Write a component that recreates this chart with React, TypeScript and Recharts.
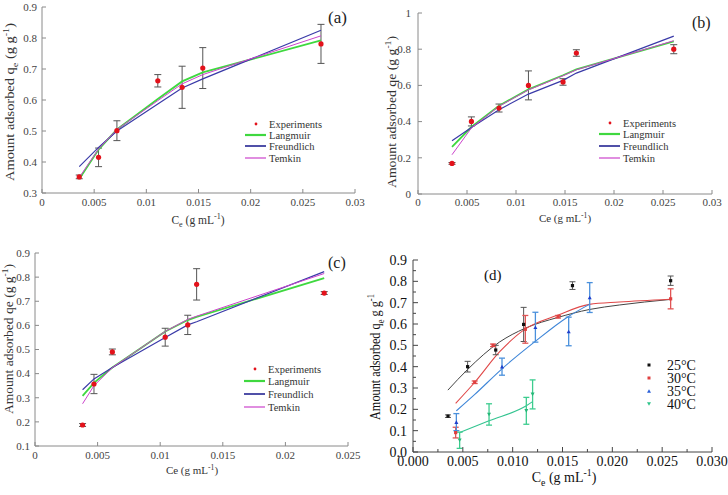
import React from "react";
import { ComposedChart, Scatter, Line, XAxis, YAxis, ErrorBar } from "recharts";

// ---------- panel (a)
const ceA = [0.00357, 0.00542, 0.00718, 0.0111, 0.01343, 0.01541, 0.02674];
const qeA = [0.352, 0.415, 0.501, 0.662, 0.641, 0.703, 0.781];
const errA = [0.006, 0.03, 0.032, 0.02, 0.068, 0.066, 0.063];
const langA = [0.345, 0.44, 0.505, 0.603, 0.66, 0.689, 0.792];
const freuA = [0.385, 0.447, 0.5, 0.587, 0.639, 0.668, 0.825];
const temkA = [0.35, 0.442, 0.505, 0.598, 0.652, 0.682, 0.807];
const xTicksA = [0, 0.005, 0.01, 0.015, 0.02, 0.025, 0.03];
const yTicksA = [0.3, 0.4, 0.5, 0.6, 0.7, 0.8, 0.9];

// ---------- panel (b)
const ceB = [0.00347, 0.00545, 0.00827, 0.01127, 0.0148, 0.01616, 0.0261];
const qeB = [0.169, 0.401, 0.475, 0.6, 0.619, 0.779, 0.8];
const errB = [0.005, 0.025, 0.022, 0.08, 0.018, 0.018, 0.025];
const langB = [0.26, 0.37, 0.488, 0.578, 0.656, 0.688, 0.843];
const freuB = [0.294, 0.368, 0.466, 0.552, 0.628, 0.668, 0.872];
const temkB = [0.217, 0.365, 0.485, 0.575, 0.653, 0.686, 0.847];
const xTicksB = [0, 0.005, 0.01, 0.015, 0.02, 0.025, 0.03];
const yTicksB = [0, 0.2, 0.4, 0.6, 0.8, 1];

// ---------- panel (c)
const ceC = [0.0038, 0.00471, 0.00618, 0.0104, 0.0122, 0.01291, 0.0231];
const qeC = [0.187, 0.357, 0.49, 0.551, 0.602, 0.77, 0.734];
const errC = [0.006, 0.04, 0.012, 0.037, 0.04, 0.065, 0.006];
const langC = [0.308, 0.362, 0.425, 0.575, 0.622, 0.635, 0.796];
const freuC = [0.333, 0.378, 0.425, 0.55, 0.602, 0.615, 0.823];
const temkC = [0.275, 0.35, 0.425, 0.575, 0.625, 0.638, 0.815];
const xTicksC = [0, 0.005, 0.01, 0.015, 0.02, 0.025];
const yTicksC = [0.1, 0.2, 0.3, 0.4, 0.5, 0.6, 0.7, 0.8, 0.9];

// ---------- panel (d)
const ce25 = [0.00351, 0.00548, 0.0083, 0.0111, 0.016, 0.02585];
const qe25 = [0.168, 0.4, 0.478, 0.598, 0.78, 0.803];
const err25 = [0.006, 0.025, 0.022, 0.08, 0.018, 0.022];
const fitX25 = [0.0035, 0.0055, 0.0087, 0.0112, 0.01455, 0.0177, 0.0207, 0.0258];
const fitY25 = [0.29, 0.388, 0.516, 0.579, 0.631, 0.668, 0.689, 0.715];

const ce30 = [0.00428, 0.00619, 0.00803, 0.01127, 0.01455, 0.02585];
const qe30 = [0.091, 0.327, 0.5, 0.575, 0.634, 0.718];
const err30 = [0.025, 0.006, 0.006, 0.065, 0.006, 0.047];
const fitX30 = [0.00428, 0.0062, 0.0087, 0.0112, 0.01455, 0.0177, 0.0207, 0.0258];
const fitY30 = [0.228, 0.327, 0.47, 0.575, 0.642, 0.692, 0.703, 0.716];

const ce35 = [0.00435, 0.00893, 0.01228, 0.01562, 0.01773];
const qe35 = [0.14, 0.4, 0.585, 0.565, 0.724];
const err35 = [0.04, 0.04, 0.07, 0.067, 0.07];
const fitX35 = [0.00435, 0.0062, 0.00893, 0.0122, 0.01556, 0.0177];
const fitY35 = [0.193, 0.27, 0.39, 0.516, 0.634, 0.692];

const ce40 = [0.00468, 0.00763, 0.01137, 0.012];
const qe40 = [0.055, 0.176, 0.193, 0.27];
const err40 = [0.038, 0.05, 0.063, 0.068];
const fitX40 = [0.00468, 0.00763, 0.01137, 0.012];
const fitY40 = [0.091, 0.146, 0.217, 0.236];

const xTicksD = [0, 0.005, 0.01, 0.015, 0.02, 0.025, 0.03];
const xMinorD = [0.0025, 0.0075, 0.0125, 0.0175, 0.0225, 0.0275];
const yTicksD = [0, 0.1, 0.2, 0.3, 0.4, 0.5, 0.6, 0.7, 0.8, 0.9];
const yMinorD = [0.05, 0.15, 0.25, 0.35, 0.45, 0.55, 0.65, 0.75, 0.85];

const FONT = '"Liberation Serif", "DejaVu Serif", serif';
const RED = "#e3121b";
const GREEN = "#3fd83f";
const BLUE = "#3a3aa8";
const MAGENTA = "#cc44cc";

const rows = (xs: number[], ys: number[], es?: number[]) =>
  xs.map((x, i) => ({ x, y: ys[i], e: es ? es[i] : 0 }));

type Side = "bottom" | "left" | "top" | "right";
type TickOpt = {
  side: Side;
  len: number;
  minorLen: number;
  majors: number[];
  fmt?: (v: number) => string;
  gap: number;
  fontSize: number;
  color: string;
  textColor: string;
};

const makeTick = (o: TickOpt) => (props: any) => {
  const { x, y, payload } = props;
  const v = payload.value as number;
  const major = o.majors.some((m) => Math.abs(m - v) < 1e-9);
  const L = major ? o.len : o.minorLen;
  const label = major && o.fmt ? o.fmt(v) : null;
  const ln = { stroke: o.color, strokeWidth: 1 };
  const txt = { style: { fontSize: o.fontSize, fontFamily: FONT }, fill: o.textColor };
  if (o.side === "bottom")
    return (
      <g>
        <line x1={x} x2={x} y1={y} y2={y - L} {...ln} />
        {label && (
          <text x={x} y={y + o.gap} textAnchor="middle" {...txt}>
            {label}
          </text>
        )}
      </g>
    );
  if (o.side === "left")
    return (
      <g>
        <line x1={x} x2={x + L} y1={y} y2={y} {...ln} />
        {label && (
          <text x={x - o.gap} y={y} dy="0.35em" textAnchor="end" {...txt}>
            {label}
          </text>
        )}
      </g>
    );
  if (o.side === "top") return <line x1={x} x2={x} y1={y} y2={y + L} {...ln} />;
  return <line x1={x} x2={x - L} y1={y} y2={y} {...ln} />;
};

type PanelProps = {
  left: number;
  top: number;
  width: number;
  height: number;
  mTop: number;
  mRight: number;
  yWidth: number;
  xHeight: number;
  xDomain: [number, number];
  yDomain: [number, number];
  xTicks: number[];
  yTicks: number[];
  xMinor?: number[];
  yMinor?: number[];
  xFmt: (v: number) => string;
  yFmt: (v: number) => string;
  frame: string;
  textColor: string;
  fontSize: number;
  xGap: number;
  yGap: number;
  len: number;
  children: React.ReactNode;
};

function Panel(p: PanelProps) {
  const xAll = [...p.xTicks, ...(p.xMinor || [])].sort((a, b) => a - b);
  const yAll = [...p.yTicks, ...(p.yMinor || [])].sort((a, b) => a - b);
  const base = {
    minorLen: Math.round(p.len * 0.6),
    len: p.len,
    fontSize: p.fontSize,
    color: p.frame,
    textColor: p.textColor,
  };
  const common = {
    type: "number" as const,
    interval: 0 as const,
    tickSize: 0,
    tickMargin: 0,
    tickLine: false,
    allowDataOverflow: true,
    axisLine: { stroke: p.frame, strokeWidth: 1 },
  };
  return (
    <div style={{ position: "absolute", left: p.left, top: p.top }}>
      <ComposedChart
        width={p.width}
        height={p.height}
        margin={{ top: p.mTop, right: p.mRight, left: 0, bottom: 0 }}
      >
        <XAxis
          dataKey="x"
          domain={p.xDomain}
          ticks={xAll}
          height={p.xHeight}
          tick={makeTick({ ...base, side: "bottom", majors: p.xTicks, fmt: p.xFmt, gap: p.xGap })}
          {...common}
        />
        <XAxis
          xAxisId="t"
          orientation="top"
          dataKey="x"
          domain={p.xDomain}
          ticks={xAll}
          height={0}
          tick={makeTick({ ...base, side: "top", majors: p.xTicks, gap: 0 })}
          {...common}
        />
        <YAxis
          dataKey="y"
          domain={p.yDomain}
          ticks={yAll}
          width={p.yWidth}
          tick={makeTick({ ...base, side: "left", majors: p.yTicks, fmt: p.yFmt, gap: p.yGap })}
          {...common}
        />
        <YAxis
          yAxisId="r"
          orientation="right"
          dataKey="y"
          domain={p.yDomain}
          ticks={yAll}
          width={0}
          tick={makeTick({ ...base, side: "right", majors: p.yTicks, gap: 0 })}
          {...common}
        />
        {p.children}
      </ComposedChart>
    </div>
  );
}

const dot = (r: number, fill: string) => (s: any) =>
  <circle cx={s.cx} cy={s.cy} r={r} fill={fill} />;
const square = (w: number, fill: string) => (s: any) =>
  <rect x={s.cx - w / 2} y={s.cy - w / 2} width={w} height={w} fill={fill} />;
const tri = (w: number, fill: string, down: boolean) => (s: any) => {
  const h = w * 0.9;
  const d = down
    ? `M${s.cx - w / 2},${s.cy - h / 2}L${s.cx + w / 2},${s.cy - h / 2}L${s.cx},${s.cy + h / 2}Z`
    : `M${s.cx - w / 2},${s.cy + h / 2}L${s.cx + w / 2},${s.cy + h / 2}L${s.cx},${s.cy - h / 2}Z`;
  return <path d={d} fill={fill} />;
};

// isotherm panels share one look
function isoSeries(ce: number[], qe: number[], err: number[], lang: number[], freu: number[], temk: number[]) {
  return [
    <Scatter key="exp" data={rows(ce, qe, err)} fill={RED} shape={dot(2.6, RED)} isAnimationActive={false}>
      <ErrorBar dataKey="e" direction="y" width={3.5} stroke="#555" strokeWidth={1} isAnimationActive={false} />
    </Scatter>,
    <Line key="l" data={rows(ce, lang)} dataKey="y" type="linear" stroke={GREEN} strokeWidth={1.8} dot={false} isAnimationActive={false} />,
    <Line key="f" data={rows(ce, freu)} dataKey="y" type="linear" stroke={BLUE} strokeWidth={1.2} dot={false} isAnimationActive={false} />,
    <Line key="t" data={rows(ce, temk)} dataKey="y" type="linear" stroke={MAGENTA} strokeWidth={1} dot={false} isAnimationActive={false} />,
  ];
}

type Part = [string, "n" | "sub" | "sup"];
function Rich({ parts, size }: { parts: Part[]; size: number }) {
  let cur = 0;
  return (
    <>
      {parts.map(([t, k], i) => {
        const target = k === "sub" ? size * 0.3 : k === "sup" ? -size * 0.4 : 0;
        const dy = target - cur;
        cur = target;
        return (
          <tspan key={i} dy={dy} style={{ fontSize: k === "n" ? size : size * 0.7 }}>
            {t}
          </tspan>
        );
      })}
    </>
  );
}

function Label(props: { x: number; y: number; size: number; parts: Part[]; rotate?: boolean; len?: number; fill?: string }) {
  const { x, y, size, parts, rotate, len, fill = "#333" } = props;
  return (
    <text
      x={x}
      y={y}
      fill={fill}
      textAnchor="middle"
      textLength={len}
      lengthAdjust={len ? "spacingAndGlyphs" : undefined}
      style={{ whiteSpace: "pre", fontFamily: FONT, fontSize: size }}
      transform={rotate ? `rotate(-90 ${x} ${y})` : undefined}
    >
      <Rich parts={parts} size={size} />
    </text>
  );
}

function Plain(props: { x: number; y: number; size: number; text: string; fill?: string }) {
  return (
    <text x={props.x} y={props.y} fill={props.fill || "#222"} style={{ fontFamily: FONT, fontSize: props.size }}>
      {props.text}
    </text>
  );
}

function IsoLegend({ x, rowsY, size }: { x: number; rowsY: number[]; size: number }) {
  const items = [
    { name: "Experiments", color: RED, w: 0 },
    { name: "Langmuir", color: GREEN, w: 2.2 },
    { name: "Freundlich", color: "#5050a8", w: 2 },
    { name: "Temkin", color: MAGENTA, w: 1.2 },
  ];
  return (
    <g>
      {items.map((it, i) => (
        <g key={it.name}>
          {it.w === 0 ? (
            <circle cx={x - 13} cy={rowsY[i]} r={1.4} fill={it.color} />
          ) : (
            <line x1={x - 24} x2={x - 3} y1={rowsY[i]} y2={rowsY[i]} stroke={it.color} strokeWidth={it.w} />
          )}
          <text x={x} y={rowsY[i]} dy="0.35em" fill="#333" style={{ fontFamily: FONT, fontSize: size }}>
            {it.name}
          </text>
        </g>
      ))}
    </g>
  );
}

const num = (v: number) => String(v);
const yLabelPlain: Part[] = [["Amount adsorbed qe (g g", "n"], ["-1", "sup"], [")", "n"]];
const yLabelSub: Part[] = [["Amount adsorbed q", "n"], ["e", "sub"], [" (g g", "n"], ["-1", "sup"], [")", "n"]];
const xLabelSub: Part[] = [["C", "n"], ["e", "sub"], [" (g mL", "n"], ["-1", "sup"], [")", "n"]];
const xLabelPlain: Part[] = [["Ce (g mL", "n"], ["-1", "sup"], [")", "n"]];

const isoLook = {
  frame: "#8a8a8a",
  textColor: "#444",
  fontSize: 11,
  len: 4,
};

export default function App() {
  const dLook = { frame: "#444", textColor: "#111", fontSize: 14, len: 5 };
  const legendD = [
    { name: "25°C", shape: square(3, "#111") },
    { name: "30°C", shape: square(3, "#e04040") },
    { name: "35°C", shape: tri(4, "#2a5fd8", false) },
    { name: "40°C", shape: tri(4, "#2ec48a", true) },
  ];
  return (
    <div style={{ position: "absolute", left: 0, top: 0, width: 728, height: 495, background: "#fff", fontFamily: FONT }}>
      <style>{`.recharts-surface { overflow: visible; }`}</style>
      <Panel
        left={0} top={0} width={364} height={250} mTop={7} mRight={9} yWidth={42} xHeight={57}
        xDomain={[0, 0.03]} yDomain={[0.3, 0.9]} xTicks={xTicksA} yTicks={yTicksA}
        xFmt={num} yFmt={num} xGap={13} yGap={5} {...isoLook}
      >
        {isoSeries(ceA, qeA, errA, langA, freuA, temkA)}
      </Panel>
      <Panel
        left={364} top={0} width={364} height={250} mTop={13} mRight={16} yWidth={54} xHeight={56}
        xDomain={[0, 0.03]} yDomain={[0, 1]} xTicks={xTicksB} yTicks={yTicksB}
        xFmt={num} yFmt={num} xGap={12} yGap={7} {...isoLook}
      >
        {isoSeries(ceB, qeB, errB, langB, freuB, temkB)}
      </Panel>
      <Panel
        left={0} top={250} width={364} height={245} mTop={3} mRight={16} yWidth={35} xHeight={49}
        xDomain={[0, 0.025]} yDomain={[0.1, 0.9]} xTicks={xTicksC} yTicks={yTicksC}
        xFmt={num} yFmt={num} xGap={13} yGap={5} {...isoLook}
      >
        {isoSeries(ceC, qeC, errC, langC, freuC, temkC)}
      </Panel>
      <Panel
        left={364} top={250} width={364} height={245} mTop={10} mRight={16} yWidth={49} xHeight={43}
        xDomain={[0, 0.03]} yDomain={[0, 0.9]} xTicks={xTicksD} yTicks={yTicksD}
        xMinor={xMinorD} yMinor={yMinorD}
        xFmt={(v) => v.toFixed(3)} yFmt={(v) => v.toFixed(1)} xGap={14} yGap={6} {...dLook}
      >
        <Line data={rows(fitX25, fitY25)} dataKey="y" type="monotone" stroke="#444" strokeWidth={1} dot={false} isAnimationActive={false} />
        <Line data={rows(fitX30, fitY30)} dataKey="y" type="monotone" stroke="#e04848" strokeWidth={1.1} dot={false} isAnimationActive={false} />
        <Line data={rows(fitX35, fitY35)} dataKey="y" type="monotone" stroke="#3f86d8" strokeWidth={1.1} dot={false} isAnimationActive={false} />
        <Line data={rows(fitX40, fitY40)} dataKey="y" type="monotone" stroke="#33c490" strokeWidth={1.1} dot={false} isAnimationActive={false} />
        <Scatter data={rows(ce25, qe25, err25)} fill="#111" shape={square(3.2, "#111")} isAnimationActive={false}>
          <ErrorBar dataKey="e" direction="y" width={3} stroke="#555" strokeWidth={1} isAnimationActive={false} />
        </Scatter>
        <Scatter data={rows(ce30, qe30, err30)} fill="#e04040" shape={square(3.2, "#e04040")} isAnimationActive={false}>
          <ErrorBar dataKey="e" direction="y" width={3} stroke="#e05555" strokeWidth={1.3} isAnimationActive={false} />
        </Scatter>
        <Scatter data={rows(ce35, qe35, err35)} fill="#2a5fd8" shape={tri(4, "#1f3fcc", false)} isAnimationActive={false}>
          <ErrorBar dataKey="e" direction="y" width={3} stroke="#4a90dc" strokeWidth={1.3} isAnimationActive={false} />
        </Scatter>
        <Scatter data={rows(ce40, qe40, err40)} fill="#2ec48a" shape={tri(4, "#25b878", true)} isAnimationActive={false}>
          <ErrorBar dataKey="e" direction="y" width={3} stroke="#3dcc8f" strokeWidth={1.3} isAnimationActive={false} />
        </Scatter>
      </Panel>

      <svg width={728} height={495} style={{ position: "absolute", left: 0, top: 0, pointerEvents: "none" }}>
        {/* (a) */}
        <Label x={14} y={102} size={12.5} len={158} rotate parts={yLabelSub} />
        <Label x={198} y={224} size={11.5} parts={xLabelSub} />
        <Plain x={328} y={23} size={17} text="(a)" />
        <IsoLegend x={269} rowsY={[124, 135, 146, 158]} size={10.5} />
        {/* (b) */}
        <Label x={396} y={112} size={12.5} len={152} rotate parts={yLabelPlain} />
        <Label x={565} y={222} size={11} parts={xLabelPlain} />
        <Plain x={692} y={28} size={16} text="(b)" />
        <IsoLegend x={623} rowsY={[123, 134, 146, 158]} size={10.5} />
        {/* (c) */}
        <Label x={13} y={339} size={12.5} len={150} rotate parts={yLabelPlain} />
        <Label x={192} y={474} size={11} parts={xLabelPlain} />
        <Plain x={328} y={268} size={16} text="(c)" />
        <IsoLegend x={268} rowsY={[369, 381, 394, 407]} size={10.5} />
        {/* (d) */}
        <Label x={380} y={357} size={14} len={126} rotate fill="#111"
          parts={[["Amount adsorbed q", "n"], ["e", "sub"], [" g g", "n"], ["-1", "sup"]]} />
        <Label x={564} y={482} size={14} fill="#111" parts={xLabelSub} />
        <Plain x={484} y={280} size={15} text="(d)" fill="#111" />
        {legendD.map((it, i) => {
          const cy = 365 + i * 13;
          return (
            <g key={it.name}>
              {it.shape({ cx: 649, cy })}
              <text x={667} y={cy} dy="0.35em" fill="#111" style={{ fontFamily: FONT, fontSize: 14 }}>
                {it.name}
              </text>
            </g>
          );
        })}
      </svg>
    </div>
  );
}
